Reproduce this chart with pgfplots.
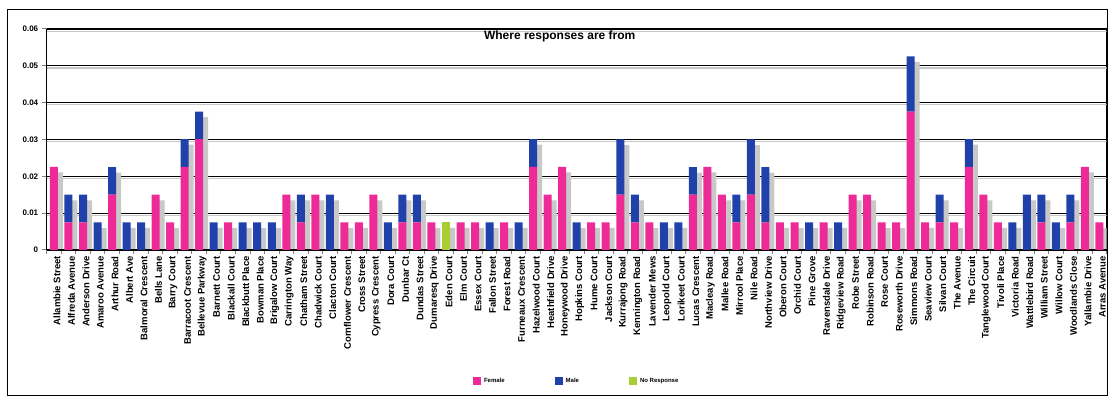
\documentclass[border=0pt]{standalone}
\usepackage{pgfplots}
\pgfplotsset{compat=1.18}
\usepackage{pgfplotstable}
\usepackage{fontspec}
\setmainfont{Liberation Sans}
\definecolor{fem}{RGB}{238,42,150}
\definecolor{mal}{RGB}{32,64,170}
\definecolor{nor}{RGB}{168,206,50}
\definecolor{shd}{RGB}{200,200,200}
\pgfplotstableread{
idx F M N
0 0.0226 0 0
1 0.0075 0.0075 0
2 0.0075 0.0075 0
3 0 0.0075 0
4 0.0150 0.0075 0
5 0 0.0075 0
6 0 0.0075 0
7 0.0150 0 0
8 0.0075 0 0
9 0.0226 0.0075 0
10 0.0301 0.0075 0
11 0 0.0075 0
12 0.0075 0 0
13 0 0.0075 0
14 0 0.0075 0
15 0 0.0075 0
16 0.0150 0 0
17 0.0075 0.0075 0
18 0.0150 0 0
19 0 0.0150 0
20 0.0075 0 0
21 0.0075 0 0
22 0.0150 0 0
23 0 0.0075 0
24 0.0075 0.0075 0
25 0.0075 0.0075 0
26 0.0075 0 0
27 0 0 0.0075
28 0.0075 0 0
29 0.0075 0 0
30 0 0.0075 0
31 0.0075 0 0
32 0 0.0075 0
33 0.0226 0.0075 0
34 0.0150 0 0
35 0.0226 0 0
36 0 0.0075 0
37 0.0075 0 0
38 0.0075 0 0
39 0.0150 0.0150 0
40 0.0075 0.0075 0
41 0.0075 0 0
42 0 0.0075 0
43 0 0.0075 0
44 0.0150 0.0075 0
45 0.0226 0 0
46 0.0150 0 0
47 0.0075 0.0075 0
48 0.0150 0.0150 0
49 0.0075 0.0150 0
50 0.0075 0 0
51 0.0075 0 0
52 0 0.0075 0
53 0.0075 0 0
54 0 0.0075 0
55 0.0150 0 0
56 0.0150 0 0
57 0.0075 0 0
58 0.0075 0 0
59 0.0376 0.0150 0
60 0.0075 0 0
61 0.0075 0.0075 0
62 0.0075 0 0
63 0.0226 0.0075 0
64 0.0150 0 0
65 0.0075 0 0
66 0 0.0075 0
67 0 0.0150 0
68 0.0075 0.0075 0
69 0 0.0075 0
70 0.0075 0.0075 0
71 0.0226 0 0
72 0.0075 0 0
}\data
\pgfplotsset{base/.style={
  scale only axis, width=1060pt, height=221pt,
  at={(46.7pt,146pt)}, anchor=south west,
  xmin=-0.5, xmax=72.5, ymin=0, ymax=0.06,
  ytick={0,0.01,0.02,0.03,0.04,0.05,0.06},
  scaled y ticks=false}}
\begin{document}
\begin{tikzpicture}
\path[use as bounding box] (0pt,0pt) rectangle (1110pt,396pt);
\draw[line width=1pt] (7pt,1pt) rectangle (1107pt,386pt);
% grid lines with grey shadow
\begin{axis}[base, xtick=\empty, yticklabels={}, major tick length=0pt,
  axis line style={line width=1pt},
  ymajorgrids, grid style={black, line width=1.1pt}]
\addplot[sharp plot, shd, line width=1.2pt, forget plot] coordinates {(-0.5,0.0094) (72.5,0.0094)};
\addplot[sharp plot, shd, line width=1.2pt, forget plot] coordinates {(-0.5,0.0194) (72.5,0.0194)};
\addplot[sharp plot, shd, line width=1.2pt, forget plot] coordinates {(-0.5,0.0294) (72.5,0.0294)};
\addplot[sharp plot, shd, line width=1.2pt, forget plot] coordinates {(-0.5,0.0394) (72.5,0.0394)};
\addplot[sharp plot, shd, line width=1.2pt, forget plot] coordinates {(-0.5,0.0494) (72.5,0.0494)};
\addplot[sharp plot, shd, line width=1.2pt, forget plot] coordinates {(-0.5,0.0594) (72.5,0.0594)};
\end{axis}
% bar shadows
\begin{axis}[base, ybar, bar width=8pt, bar shift=5pt,
  axis line style={draw=none}, xtick=\empty, yticklabels={},
  major tick length=0pt]
\addplot[fill=shd, draw=none] table[x=idx, y expr=\thisrow{F}+\thisrow{M}+\thisrow{N}-0.0015] {\data};
\end{axis}
\begin{axis}[base, ybar stacked, bar width=8pt,
  axis x line*=bottom, axis y line*=left,
  axis line style={line width=1.3pt},
  tick align=outside,
  ytick style={line width=1pt}, major tick length=5pt,
  xtick={0,...,72},
  major x tick style={draw=none},
  minor xtick={-0.5,0.5,...,72.5},
  minor x tick style={line width=0.9pt},
  minor tick length=4pt,
  /pgf/number format/assume math mode=true,
  yticklabel style={font=\bfseries\fontsize{8}{8}\selectfont, /pgf/number format/fixed, /pgf/number format/precision=2},
  xticklabel style={rotate=90, anchor=east, font=\bfseries\fontsize{9.5}{9.5}\selectfont, inner sep=1pt, yshift=-3pt},
  xticklabels={Allambie Street,Alfreda Avenue,Anderson Drive,Amaroo Avenue,Arthur Road,Albert Ave,Balmoral Crescent,Bells Lane,Barry Court,Barracoot Crescent,Bellevue Parkway,Barnett Court,Blackall Court,Blackbutt Place,Bowman Place,Brigalow Court,Carrington Way,Chatham Street,Chadwick Court,Clacton Court,Cornflower Crescent,Cross Street,Cypress Crescent,Dora Court,Dunbar Ct,Dundas Street,Dumaresq Drive,Eden Court,Elm Court,Essex Court,Fallon Street,Forest Road,Furneaux Crescent,Hazelwood Court,Heathfield Drive,Honeywood Drive,Hopkins Court,Hume Court,Jackson Court,Kurrajong Road,Kennington Road,Lavender Mews,Leopold Court,Lorikeet Court,Lucas Crescent,Macleay Road,Mallee Road,Mirrool Place,Nile Road,Northview Drive,Oberon Court,Orchid Court,Pine Grove,Ravensdale Drive,Ridgeview Road,Robe Street,Robinson Road,Rose Court,Roseworth Drive,Simmons Road,Seaview Court,Silvan Court,The Avenue,The Circuit,Tanglewood Court,Tivoli Place,Victoria Road,Wattlebird Road,William Street,Willow Court,Woodlands Close,Yallambie Drive,Arras Avenue},
  title={Where responses are from},
  title style={at={(0.484,0.941)}, anchor=center, font=\bfseries\fontsize{12}{12}\selectfont},
  legend style={at={(0.5,-0.593)}, anchor=center, legend columns=-1, draw=none, fill=none,
    font=\bfseries\fontsize{6}{6}\selectfont,
    /tikz/every odd column/.append style={column sep=1pt},
    /tikz/every even column/.append style={column sep=48pt}},
  legend image code/.code={\fill[#1] (0pt,-4pt) rectangle (8pt,4pt);},
  ]
\addplot[fill=fem, draw=none] table[x=idx, y=F] {\data};
\addplot[fill=mal, draw=none] table[x=idx, y=M] {\data};
\addplot[fill=nor, draw=none] table[x=idx, y=N] {\data};
\legend{Female,Male,No Response}
\end{axis}
\end{tikzpicture}
\end{document}
